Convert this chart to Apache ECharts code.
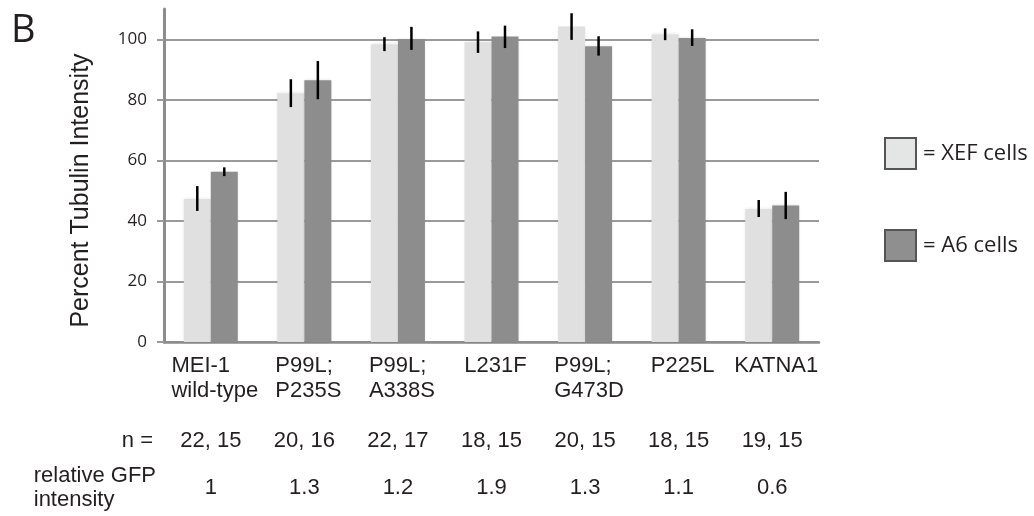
<!DOCTYPE html>
<html>
<head>
<meta charset="utf-8">
<script src="https://cdn.jsdelivr.net/npm/echarts@6/dist/echarts.min.js"></script>
<style>
html,body{margin:0;padding:0;background:#fff;}
#chart{width:1034px;height:516px;}
</style>
</head>
<body>
<div id="chart"></div>
<script>
// ---- data ----
const categories = ['MEI-1\nwild-type', 'P99L;\nP235S', 'P99L;\nA338S', 'L231F', 'P99L;\nG473D', 'P225L', 'KATNA1'];
const xefValues   = [47.2, 82.2, 98.3, 99.0, 104.2, 101.6, 43.9];
const xefErrLow   = [43.3, 77.6, 96.1, 95.5, 99.8, 99.7, 41.3];
const xefErrHigh  = [51.5, 86.8, 100.7, 102.6, 108.6, 103.6, 46.9];
const a6Values    = [56.2, 86.5, 100.1, 100.9, 97.7, 100.4, 45.1];
const a6ErrLow    = [54.8, 80.2, 96.5, 97.1, 94.6, 97.8, 40.6];
const a6ErrHigh   = [57.7, 92.8, 104.1, 104.5, 101.0, 103.3, 49.6];
const nLabels     = ['22, 15', '20, 16', '22, 17', '18, 15', '20, 15', '18, 15', '19, 15'];
const gfpLabels   = ['1', '1.3', '1.2', '1.9', '1.3', '1.1', '0.6'];
const yTicks      = [0, 20, 40, 60, 80, 100];
const seriesNames = ['XEF cells', 'A6 cells'];

// ---- styling ----
const TXT = '#231f20';
const SANS = 'Liberation Sans, Arial, Helvetica, sans-serif';
const HUM = 'Open Sans, Noto Sans, sans-serif';
const XEF_COLOR = '#e0e0e0';
const A6_COLOR = '#8d8d8d';
const BAR_W = 27;

function errSeries(low, high, offset) {
  return {
    type: 'custom',
    xAxisIndex: 0,
    yAxisIndex: 0,
    z: 10,
    silent: true,
    encode: { x: 0, y: [1, 2] },
    data: low.map((v, i) => [i, v, high[i]]),
    renderItem: function (params, api) {
      const lo = api.coord([api.value(0), api.value(1)]);
      const hi = api.coord([api.value(0), api.value(2)]);
      const x = lo[0] + offset;
      return {
        type: 'line',
        shape: { x1: x, y1: lo[1], x2: x, y2: hi[1] },
        style: { stroke: '#000', lineWidth: 2.5 }
      };
    }
  };
}

const richLeft = (s) => s.split('\n').map(t => '{a|' + t + '}').join('\n');

const chart = echarts.init(document.getElementById('chart'), null, { renderer: 'canvas' });
chart.setOption({
  animation: false,
  backgroundColor: '#fff',
  title: {
    text: 'B', left: 6, top: 7,
    textStyle: { fontFamily: HUM, fontSize: 38, fontWeight: 'normal', color: TXT }
  },
  grid: { left: 164, right: 215, top: 9, bottom: 174, containLabel: false },
  legend: {
    orient: 'vertical',
    left: 879, top: 132,
    itemWidth: 31, itemHeight: 31, itemGap: 59,
    icon: 'rect',
    formatter: '= {name}',
    textStyle: { fontFamily: HUM, fontSize: 22, color: TXT, padding: [0, 0, 0, 2] },
    data: [
      { name: seriesNames[0], itemStyle: { color: '#e4e6e6', borderColor: '#555', borderWidth: 2 } },
      { name: seriesNames[1], itemStyle: { color: '#8f8f8f', borderColor: '#555', borderWidth: 2 } }
    ]
  },
  xAxis: [
    {
      type: 'category', gridIndex: 0, data: categories,
      axisLine: { lineStyle: { color: '#8c8c8c', width: 2.5 } },
      axisTick: { show: false },
      axisLabel: {
        interval: 0, margin: 11, padding: [0, 0, 0, 8],
        formatter: (v) => richLeft(v),
        rich: { a: { align: 'left', fontFamily: SANS, fontSize: 22, lineHeight: 25, color: TXT } }
      }
    },
    {
      type: 'category', gridIndex: 0, data: nLabels, position: 'bottom', offset: 99,
      axisLine: { show: false }, axisTick: { show: false },
      axisLabel: { interval: 0, margin: 0, verticalAlign: 'middle', fontFamily: SANS, fontSize: 22, color: TXT },
      name: 'n =', nameLocation: 'start', nameGap: 11,
      nameTextStyle: { fontFamily: SANS, fontSize: 22, color: TXT }
    },
    {
      type: 'category', gridIndex: 0, data: gfpLabels, position: 'bottom', offset: 146,
      axisLine: { show: false }, axisTick: { show: false },
      axisLabel: { interval: 0, margin: 0, verticalAlign: 'middle', fontFamily: SANS, fontSize: 22, color: TXT },
      name: richLeft('relative GFP\nintensity'), nameLocation: 'start', nameGap: 8,
      nameTextStyle: {
        fontFamily: SANS, fontSize: 22, color: TXT,
        rich: { a: { align: 'left', fontFamily: SANS, fontSize: 22, lineHeight: 24, color: TXT } }
      }
    }
  ],
  yAxis: {
    type: 'value', min: 0, max: 110, interval: 20,
    name: 'Percent Tubulin Intensity', nameLocation: 'middle', nameGap: 70,
    nameTextStyle: { fontFamily: SANS, fontSize: 25, color: TXT, padding: [0, 30, 0, 0] },
    axisLine: { show: true, lineStyle: { color: '#8c8c8c', width: 3 } },
    axisTick: { show: true, length: 7, customValues: yTicks, lineStyle: { color: '#9a9a9a', width: 2 } },
    axisLabel: { margin: 17, customValues: yTicks, fontFamily: HUM, fontSize: 17, color: TXT },
    splitLine: { show: true, lineStyle: { color: '#9a9a9a', width: 2 } }
  },
  series: [
    {
      name: seriesNames[0], type: 'bar', xAxisIndex: 0, data: xefValues,
      barWidth: BAR_W, barGap: '0%',
      itemStyle: { color: XEF_COLOR, shadowBlur: 3, shadowColor: 'rgba(0,0,0,0.12)' }
    },
    {
      name: seriesNames[1], type: 'bar', xAxisIndex: 0, data: a6Values,
      barWidth: BAR_W, barGap: '0%',
      itemStyle: { color: A6_COLOR, shadowBlur: 3, shadowColor: 'rgba(0,0,0,0.12)' }
    },
    errSeries(xefErrLow, xefErrHigh, -BAR_W / 2),
    errSeries(a6ErrLow, a6ErrHigh, BAR_W / 2)
  ]
});
</script>
</body>
</html>
